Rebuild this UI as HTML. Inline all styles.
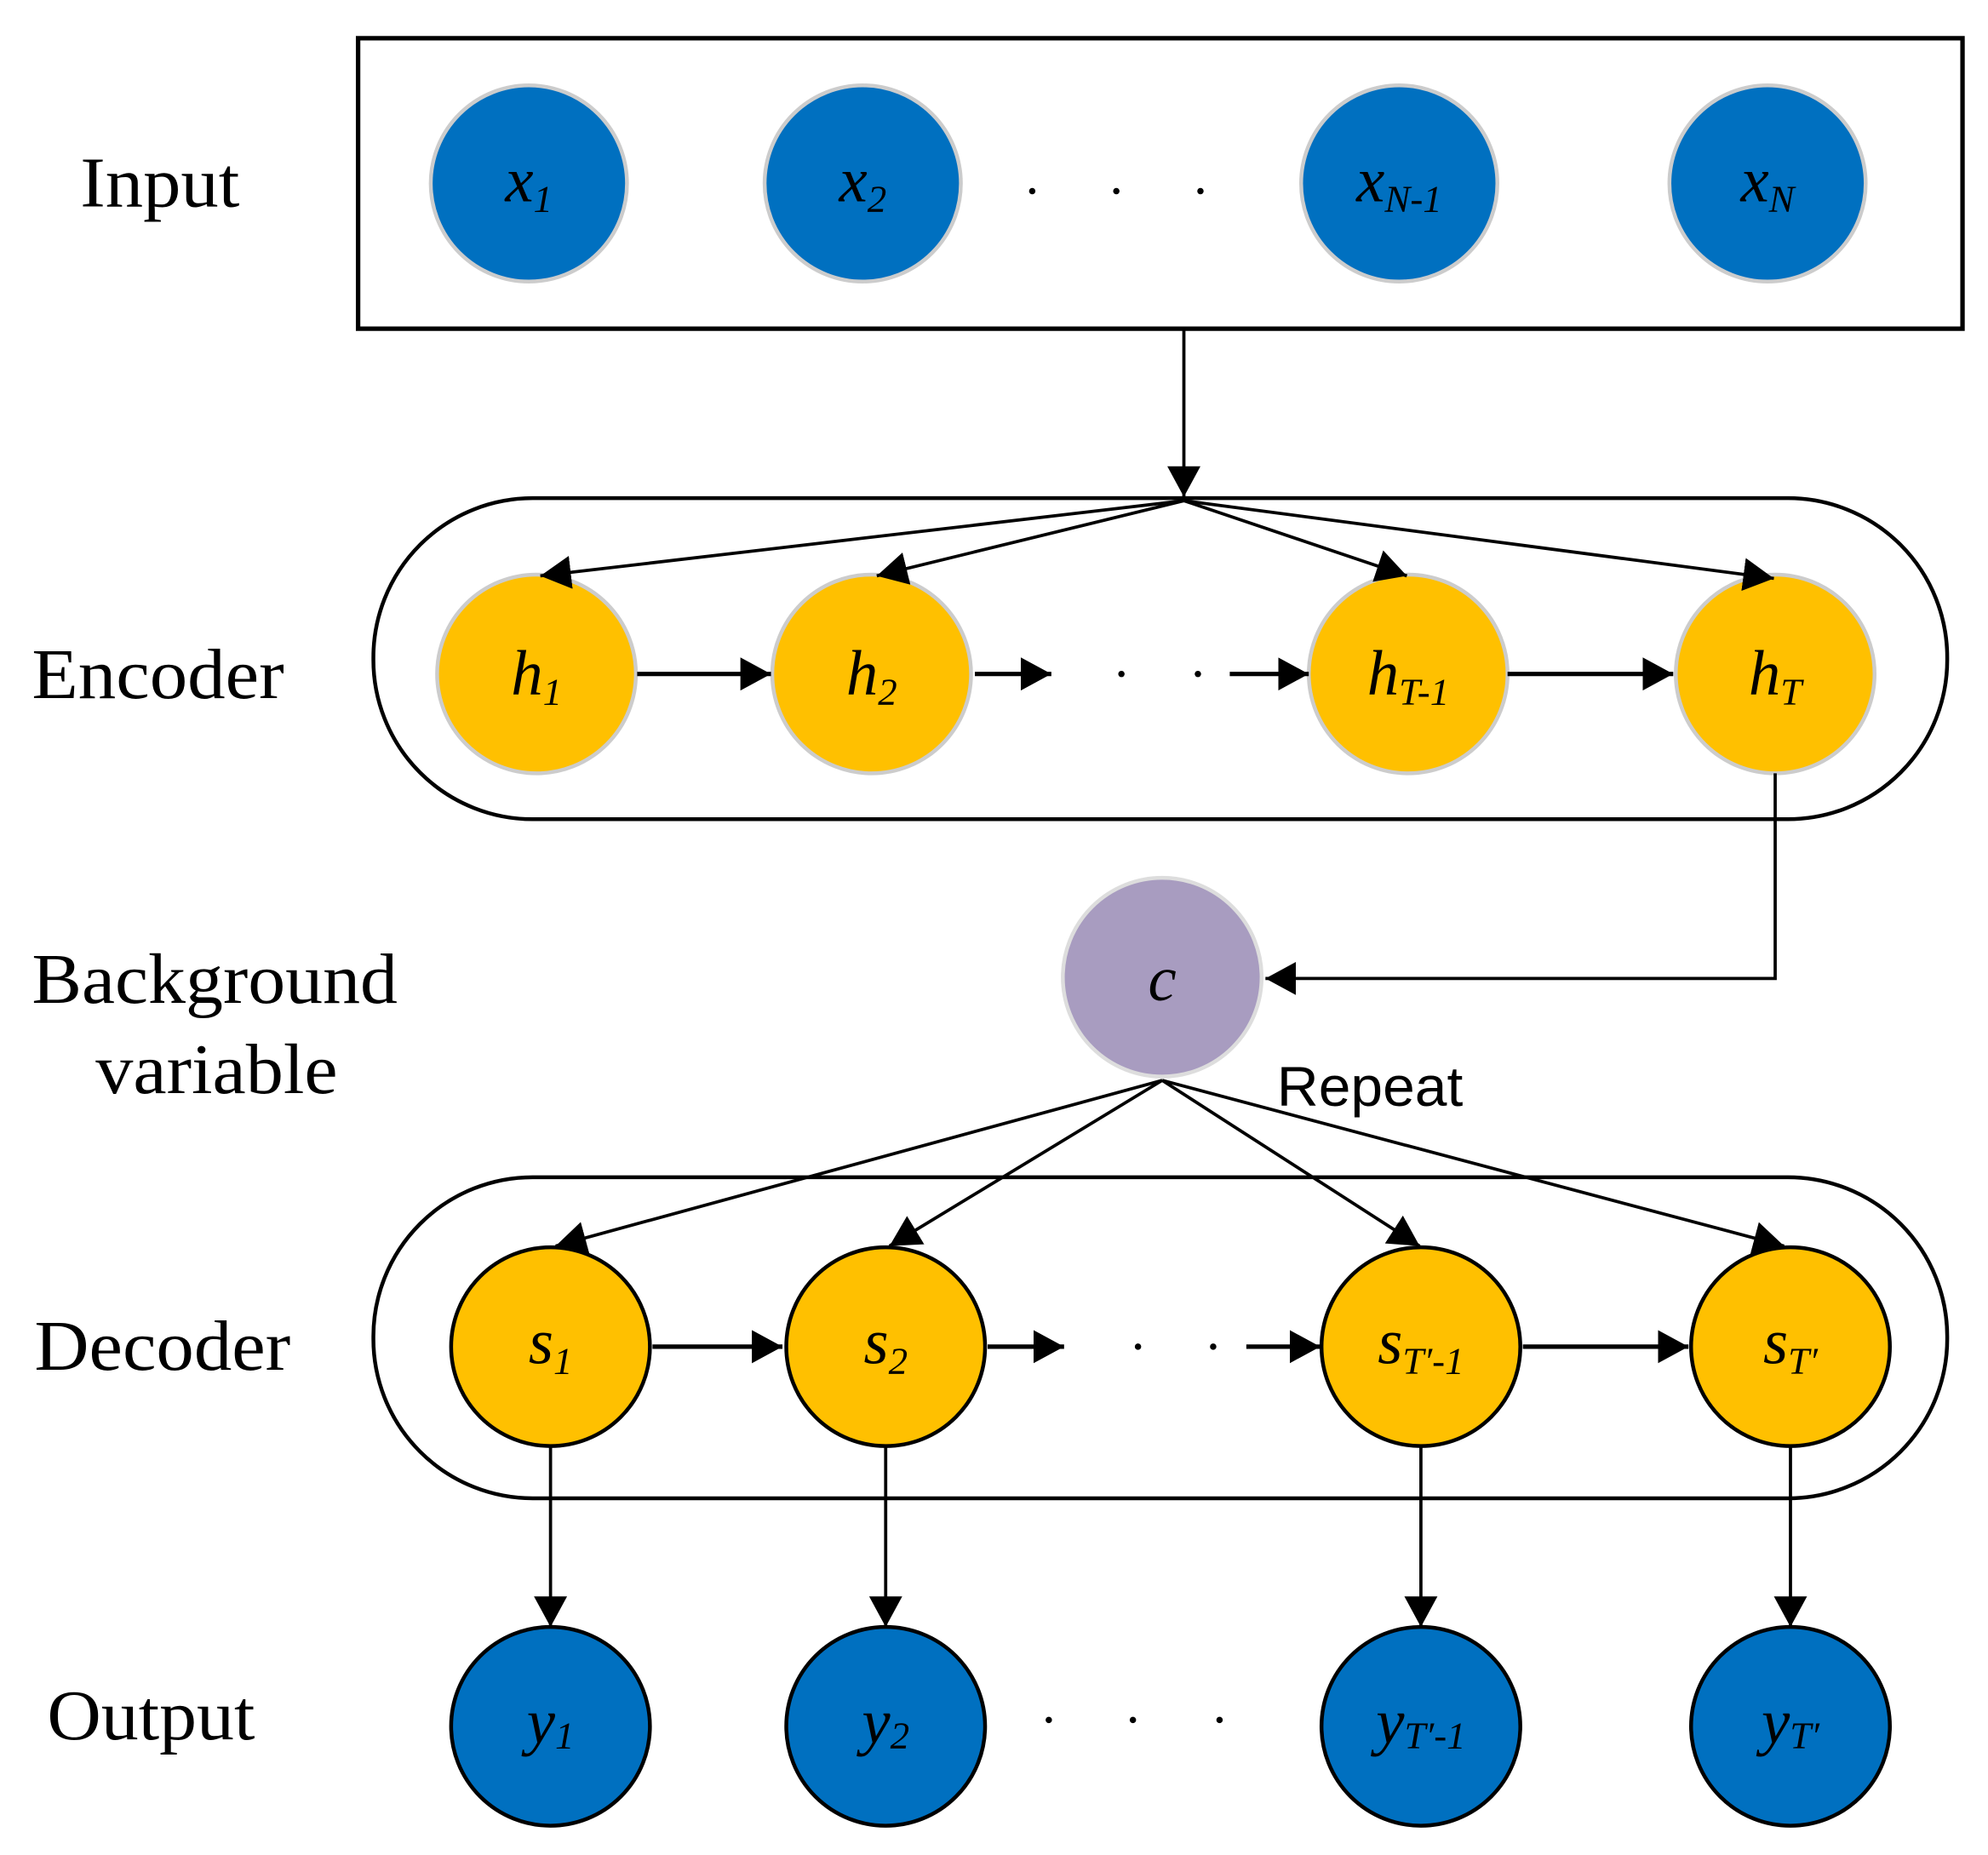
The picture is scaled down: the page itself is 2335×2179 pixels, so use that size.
<!DOCTYPE html>
<html><head><style>html,body{margin:0;padding:0;background:#fff}svg{display:block}</style></head>
<body>
<svg width="2335" height="2179" viewBox="0 0 1560 1456" preserveAspectRatio="none" xmlns="http://www.w3.org/2000/svg">
<defs>
<marker id="a" markerWidth="10" markerHeight="10" refX="9" refY="5" orient="auto" markerUnits="userSpaceOnUse" viewBox="0 0 10 10"><path d="M0,0 L10,5 L0,10 z" fill="#000"/></marker>
<marker id="b" markerWidth="24" markerHeight="26" refX="24" refY="13" orient="auto" markerUnits="userSpaceOnUse"><path d="M0,0 L24,13 L0,26 z" fill="#000"/></marker>
</defs>
<g font-family="Liberation Serif, serif" font-size="56" fill="#000">
<text x="63" y="162" textLength="125" lengthAdjust="spacingAndGlyphs">Input</text>
<text x="25" y="548" textLength="198" lengthAdjust="spacingAndGlyphs">Encoder</text>
<text x="25" y="787" textLength="287" lengthAdjust="spacingAndGlyphs">Background</text>
<text x="75" y="858" textLength="190" lengthAdjust="spacingAndGlyphs">variable</text>
<text x="27" y="1075" textLength="201" lengthAdjust="spacingAndGlyphs">Decoder</text>
<text x="37" y="1365" textLength="163" lengthAdjust="spacingAndGlyphs">Output</text>
</g>
<text x="1002" y="868" font-family="Liberation Sans, sans-serif" font-size="44" textLength="146" lengthAdjust="spacingAndGlyphs">Repeat</text>

<rect x="281" y="30" width="1259" height="228" fill="none" stroke="#000" stroke-width="3.5"/>
<rect x="293" y="391" width="1235" height="252" rx="125" fill="none" stroke="#000" stroke-width="3"/>
<rect x="293" y="924" width="1235" height="252" rx="125" fill="none" stroke="#000" stroke-width="3"/>

<g fill="#0070C0" stroke="#ccc" stroke-width="3">
<circle cx="415" cy="144" r="77"/><circle cx="677" cy="144" r="77"/><circle cx="1098" cy="144" r="77"/><circle cx="1387" cy="144" r="77"/>
</g>
<g fill="#FFC000" stroke="#ccc" stroke-width="3">
<circle cx="421" cy="529" r="78"/><circle cx="684" cy="529" r="78"/><circle cx="1105" cy="529" r="78"/><circle cx="1393" cy="529" r="78"/>
</g>
<circle cx="912" cy="767" r="78" fill="#A89CC0" stroke="#ddd" stroke-width="3"/>
<g fill="#FFC000" stroke="#000" stroke-width="3">
<circle cx="432" cy="1057" r="78"/><circle cx="695" cy="1057" r="78"/><circle cx="1115" cy="1057" r="78"/><circle cx="1405" cy="1057" r="78"/>
</g>
<g fill="#0070C0" stroke="#000" stroke-width="3">
<circle cx="432" cy="1355" r="78"/><circle cx="695" cy="1355" r="78"/><circle cx="1115" cy="1355" r="78"/><circle cx="1405" cy="1355" r="78"/>
</g>

<g fill="#000">
<circle cx="810" cy="150" r="2.5"/><circle cx="876" cy="150" r="2.5"/><circle cx="942" cy="150" r="2.5"/>
<circle cx="880" cy="529" r="2.5"/><circle cx="940" cy="529" r="2.5"/>
<circle cx="893" cy="1057" r="2.5"/><circle cx="952" cy="1057" r="2.5"/>
<circle cx="823" cy="1350" r="2.5"/><circle cx="889" cy="1350" r="2.5"/><circle cx="957" cy="1350" r="2.5"/>
</g>

<g stroke="#000" fill="none" stroke-width="2.5">
<line x1="929" y1="258" x2="929" y2="390" marker-end="url(#b)"/>
<line x1="929" y1="393" x2="424" y2="452" marker-end="url(#b)"/>
<line x1="929" y1="393" x2="688" y2="452" marker-end="url(#b)"/>
<line x1="929" y1="393" x2="1104" y2="452" marker-end="url(#b)"/>
<line x1="929" y1="393" x2="1392" y2="454" marker-end="url(#b)"/>
<polyline points="1393,607 1393,768 993,768" marker-end="url(#b)"/>
<line x1="912" y1="848" x2="436" y2="978" marker-end="url(#b)"/>
<line x1="912" y1="848" x2="698" y2="978" marker-end="url(#b)"/>
<line x1="912" y1="848" x2="1114" y2="978" marker-end="url(#b)"/>
<line x1="912" y1="848" x2="1400" y2="978" marker-end="url(#b)"/>
<line x1="432" y1="1136" x2="432" y2="1277" marker-end="url(#b)"/>
<line x1="695" y1="1136" x2="695" y2="1277" marker-end="url(#b)"/>
<line x1="1115" y1="1136" x2="1115" y2="1277" marker-end="url(#b)"/>
<line x1="1405" y1="1136" x2="1405" y2="1277" marker-end="url(#b)"/>
</g>
<g stroke="#000" fill="none" stroke-width="3.5">
<line x1="500" y1="529" x2="605" y2="529" marker-end="url(#b)"/>
<line x1="765" y1="529" x2="825" y2="529" marker-end="url(#b)"/>
<line x1="965" y1="529" x2="1027" y2="529" marker-end="url(#b)"/>
<line x1="1183" y1="529" x2="1313" y2="529" marker-end="url(#b)"/>
<line x1="512" y1="1057" x2="614" y2="1057" marker-end="url(#b)"/>
<line x1="775" y1="1057" x2="835" y2="1057" marker-end="url(#b)"/>
<line x1="978" y1="1057" x2="1036" y2="1057" marker-end="url(#b)"/>
<line x1="1195" y1="1057" x2="1325" y2="1057" marker-end="url(#b)"/>
</g>

<g font-family="Liberation Serif, serif" font-style="italic" font-size="50" fill="#000" text-anchor="middle">
<text x="415" y="158">x<tspan font-size="30" dy="8">1</tspan></text>
<text x="677" y="158">x<tspan font-size="30" dy="8">2</tspan></text>
<text x="1098" y="158">x<tspan font-size="30" dy="8">N-1</tspan></text>
<text x="1387" y="158">x<tspan font-size="30" dy="8">N</tspan></text>
<text x="421" y="545">h<tspan font-size="30" dy="8">1</tspan></text>
<text x="684" y="545">h<tspan font-size="30" dy="8">2</tspan></text>
<text x="1105" y="545">h<tspan font-size="30" dy="8">T-1</tspan></text>
<text x="1393" y="545">h<tspan font-size="30" dy="8">T</tspan></text>
<text x="912" y="785">c</text>
<text x="432" y="1070">s<tspan font-size="30" dy="8">1</tspan></text>
<text x="695" y="1070">s<tspan font-size="30" dy="8">2</tspan></text>
<text x="1115" y="1070">s<tspan font-size="30" dy="8">T′-1</tspan></text>
<text x="1405" y="1070">s<tspan font-size="30" dy="8">T′</tspan></text>
<text x="432" y="1368">y<tspan font-size="30" dy="4">1</tspan></text>
<text x="695" y="1368">y<tspan font-size="30" dy="4">2</tspan></text>
<text x="1115" y="1368">y<tspan font-size="30" dy="4">T′-1</tspan></text>
<text x="1405" y="1368">y<tspan font-size="30" dy="4">T′</tspan></text>
</g>
</svg>
</body></html>
